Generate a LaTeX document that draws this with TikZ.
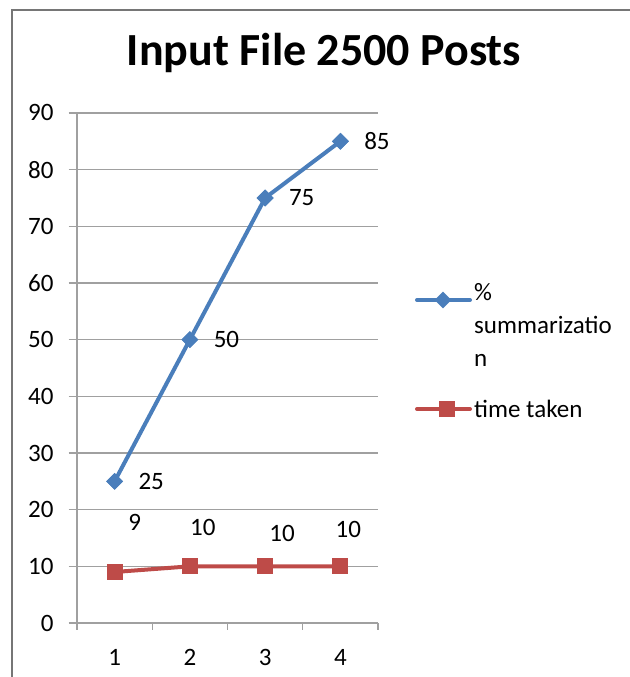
\documentclass[tikz,border=0pt]{standalone}
\usepackage{fontspec}
\setmainfont{Carlito}
\usepackage{tikz}
\usetikzlibrary{positioning,shapes.geometric}
\definecolor{sumblue}{HTML}{4A7EBB}
\definecolor{timered}{HTML}{BE4B48}
\definecolor{gridgray}{HTML}{A0A0A0}
\definecolor{framegray}{HTML}{767676}

\begin{document}
\begin{tikzpicture}[x=1pt, y=1pt, every node/.style={font=\fontsize{25}{33}\selectfont, inner sep=0pt}]
\useasboundingbox (0,0) rectangle (629,677);
% chart frame (open to the right and bottom)
\draw[framegray, line width=2pt] (12,-5) -- (12,667) -- (640,667);
\node (title) at (324,624) {\fontsize{46}{52}\selectfont\bfseries Input File 2500 Posts};
% plot area
\begin{scope}[shift={(77pt,54pt)}, x=75.25pt, y=5.667pt]
\foreach \v in {10,20,...,90} \draw[gridgray, line width=1.2pt] (-0.11,\v) -- (4,\v);
\draw[gridgray, line width=1.2pt] (-0.11,0) -- (4,0);
\draw[gridgray, line width=1.2pt] (0,0) -- (0,90);
\foreach \k in {0,1,2,3,4} \draw[gridgray, line width=1.2pt] (\k,0) -- (\k,-1.2);
\foreach \v in {0,10,...,90} \node[anchor=east] (ylab\v) at (-0.31,\v) {\v};
\foreach \k in {1,2,3,4} \node (xlab\k) at (\k-0.5,-6) {\k};
% % summarization
\node[diamond, fill=sumblue, minimum size=17pt] (b1) at (0.5,25) {};
\node[diamond, fill=sumblue, minimum size=17pt] (b2) at (1.5,50) {};
\node[diamond, fill=sumblue, minimum size=17pt] (b3) at (2.5,75) {};
\node[diamond, fill=sumblue, minimum size=17pt] (b4) at (3.5,85) {};
\draw[sumblue, line width=4pt, line join=round] (b1.center) -- (b2.center) -- (b3.center) -- (b4.center);
\foreach \p in {b1,b2,b3,b4} \node[diamond, fill=sumblue, minimum size=17pt] at (\p) {};
\node[right=15pt of b1] (lb1) {25};
\node[right=15pt of b2] (lb2) {50};
\node[right=15pt of b3] (lb3) {75};
\node[right=15pt of b4] (lb4) {85};
% time taken
\node[rectangle, fill=timered, minimum size=16pt] (r1) at (0.5,9) {};
\node[rectangle, fill=timered, minimum size=16pt] (r2) at (1.5,10) {};
\node[rectangle, fill=timered, minimum size=16pt] (r3) at (2.5,10) {};
\node[rectangle, fill=timered, minimum size=16pt] (r4) at (3.5,10) {};
\draw[timered, line width=4pt, line join=round] (r1.center) -- (r2.center) -- (r3.center) -- (r4.center);
\foreach \p in {r1,r2,r3,r4} \node[rectangle, fill=timered, minimum size=16pt] at (\p) {};
\node (lr1) at ([xshift=20pt, yshift=50pt]r1.center) {9};
\node (lr2) at ([xshift=13pt, yshift=39pt]r2.center) {10};
\node (lr3) at ([xshift=17pt, yshift=33pt]r3.center) {10};
\node (lr4) at ([xshift=8pt, yshift=37pt]r4.center) {10};
\end{scope}
% legend
\coordinate (bl0) at (417,377);
\coordinate (bl1) at (470,377);
\draw[sumblue, line width=4pt, line cap=round] (bl0) -- (bl1);
\node[diamond, fill=sumblue, minimum size=17pt] (blm) at (443,377) {};
\node[anchor=north west, align=left] (blt) at (474,394) {\%\\summarizatio\\n};
\coordinate (rl0) at (417,268);
\coordinate (rl1) at (470,268);
\draw[timered, line width=4pt, line cap=round] (rl0) -- (rl1);
\node[rectangle, fill=timered, minimum size=16pt] (rlm) at (447,268) {};
\node[anchor=west] (rlt) at (474,268) {time taken};
\end{tikzpicture}
\end{document}
